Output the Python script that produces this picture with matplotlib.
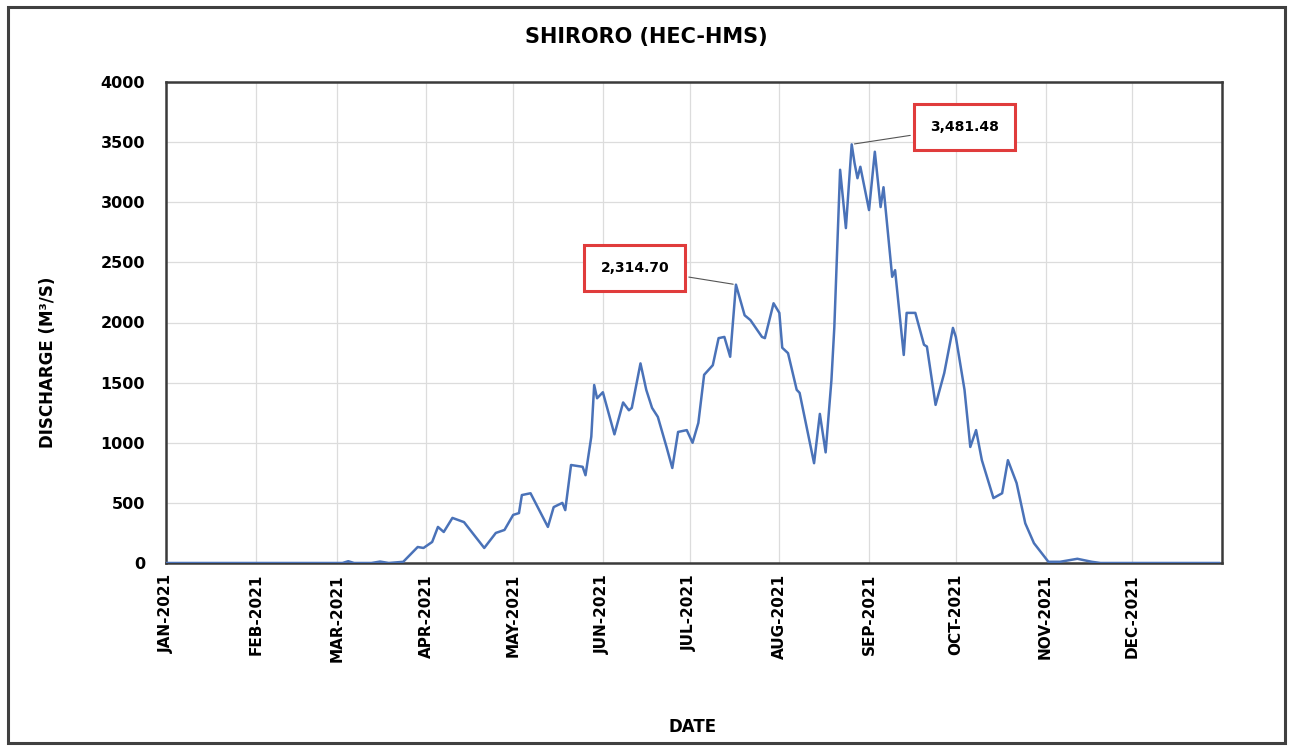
import pandas as pd
import matplotlib
matplotlib.use("Agg")
import matplotlib.pyplot as plt
from matplotlib.patches import Rectangle

# Shiroro simulated discharge (HEC-HMS)
dates = [
    "2021-01-01", "2021-03-03", "2021-03-05", "2021-03-07", "2021-03-13", "2021-03-16",
    "2021-03-19", "2021-03-24", "2021-03-29", "2021-03-31", "2021-04-03", "2021-04-05",
    "2021-04-07", "2021-04-10", "2021-04-14", "2021-04-21", "2021-04-25", "2021-04-28",
    "2021-05-01", "2021-05-03", "2021-05-04", "2021-05-07", "2021-05-13", "2021-05-15",
    "2021-05-18", "2021-05-19", "2021-05-21", "2021-05-25", "2021-05-26", "2021-05-28",
    "2021-05-29", "2021-05-30", "2021-06-01", "2021-06-05", "2021-06-08", "2021-06-10",
    "2021-06-11", "2021-06-14", "2021-06-16", "2021-06-18", "2021-06-20", "2021-06-23",
    "2021-06-25", "2021-06-27", "2021-06-30", "2021-07-02", "2021-07-04", "2021-07-06",
    "2021-07-09", "2021-07-11", "2021-07-13", "2021-07-15", "2021-07-17", "2021-07-20",
    "2021-07-22", "2021-07-26", "2021-07-27", "2021-07-30", "2021-08-01", "2021-08-02",
    "2021-08-04", "2021-08-07", "2021-08-08", "2021-08-13", "2021-08-15", "2021-08-17",
    "2021-08-19", "2021-08-20", "2021-08-22", "2021-08-24", "2021-08-26", "2021-08-27",
    "2021-08-28", "2021-08-29", "2021-09-01", "2021-09-03", "2021-09-05", "2021-09-06",
    "2021-09-09", "2021-09-10", "2021-09-13", "2021-09-14", "2021-09-17", "2021-09-20",
    "2021-09-21", "2021-09-24", "2021-09-27", "2021-09-30", "2021-10-01", "2021-10-04",
    "2021-10-06", "2021-10-08", "2021-10-10", "2021-10-14", "2021-10-17", "2021-10-19",
    "2021-10-22", "2021-10-25", "2021-10-28", "2021-11-02", "2021-11-06", "2021-11-12",
    "2021-11-17", "2021-11-20", "2021-12-31",
]
discharge = [
    0, 0, 15, 0, 0, 12,
    0, 10, 133, 125, 175, 300,
    258, 375, 340, 125, 250, 275,
    400, 415, 565, 580, 300, 465,
    500, 440, 815, 800, 730, 1050,
    1480, 1370, 1420, 1070, 1335, 1270,
    1290, 1660, 1440, 1290, 1215, 965,
    790, 1090, 1105, 1000, 1165, 1565,
    1645, 1870, 1880, 1715, 2314.70, 2060,
    2020, 1880, 1870, 2160, 2080, 1790,
    1745, 1440, 1415, 830, 1240, 920,
    1520, 1960, 3270, 2785, 3481.48, 3325,
    3200, 3295, 2935, 3420, 2960, 3125,
    2380, 2435, 1730, 2080, 2080, 1815,
    1800, 1315, 1580, 1955, 1880, 1440,
    965, 1105, 855, 540, 580, 855,
    665, 330, 165, 10, 10, 35,
    10, 0, 0,
]
month_ticks = pd.date_range("2021-01-01", "2021-12-01", freq="MS")
month_labels = ["JAN-2021", "FEB-2021", "MAR-2021", "APR-2021", "MAY-2021", "JUN-2021",
                "JUL-2021", "AUG-2021", "SEP-2021", "OCT-2021", "NOV-2021", "DEC-2021"]
peak_labels = {"2021-07-17": "2,314.70", "2021-08-26": "3,481.48"}
peak_text_pos = {"2021-07-17": ("2021-06-12", 2450), "2021-08-26": ("2021-10-04", 3625)}

df = pd.DataFrame({"date": pd.to_datetime(dates), "q": discharge})

fig = plt.figure(figsize=(12.93, 7.46), dpi=100)
ax = fig.add_axes([166 / 1293, 1 - 563 / 746, 1056 / 1293, 481 / 746])

ax.plot(df["date"], df["q"], color="#4a72b8", linewidth=1.8, zorder=3)

ax.set_xlim(pd.Timestamp("2021-01-01"), pd.Timestamp("2022-01-01"))
ax.set_ylim(0, 4000)
ax.set_yticks(range(0, 4001, 500))
ax.set_xticks(month_ticks)
ax.set_xticklabels(month_labels, rotation=90, fontsize=11, fontweight="bold")
ax.tick_params(axis="y", labelsize=11.5, length=0, pad=15)
ax.tick_params(axis="x", length=0, pad=8)
for lab in ax.get_yticklabels():
    lab.set_fontweight("bold")

ax.grid(True, color="#dcdcdc", linewidth=0.9)
ax.set_axisbelow(True)
for sp in ax.spines.values():
    sp.set_color("#3a3a3a")
    sp.set_linewidth(1.8)

ax.set_ylabel("DISCHARGE (M³/S)", fontsize=12, fontweight="bold")
ax.yaxis.set_label_coords(-0.103, 0.418)
ax.set_xlabel("DATE", fontsize=12, fontweight="bold")
ax.xaxis.set_label_coords(0.499, -0.322)

# Red callout boxes on the two peaks
for d, txt in peak_labels.items():
    tx, ty = peak_text_pos[d]
    y = df.loc[df["date"] == pd.Timestamp(d), "q"].iloc[0]
    ax.annotate(txt, xy=(pd.Timestamp(d), y), xytext=(pd.Timestamp(tx), ty),
                ha="center", va="center", fontsize=10, fontweight="bold",
                bbox=dict(boxstyle="square,pad=1.15", fc="white", ec="#e03c3c", lw=2.2),
                arrowprops=dict(arrowstyle="-", color="#555555", lw=0.8),
                zorder=5)

fig.text(0.5, 1 - 37 / 746, "SHIRORO (HEC-HMS)", ha="center", va="center",
         fontsize=15, fontweight="bold")

# outer chart frame
fig.patches.append(Rectangle((8 / 1293, 3 / 746), 1277 / 1293, 736 / 746,
                             transform=fig.transFigure, fill=False,
                             edgecolor="#404040", linewidth=2.2))

fig.savefig("out.png", dpi=100)
